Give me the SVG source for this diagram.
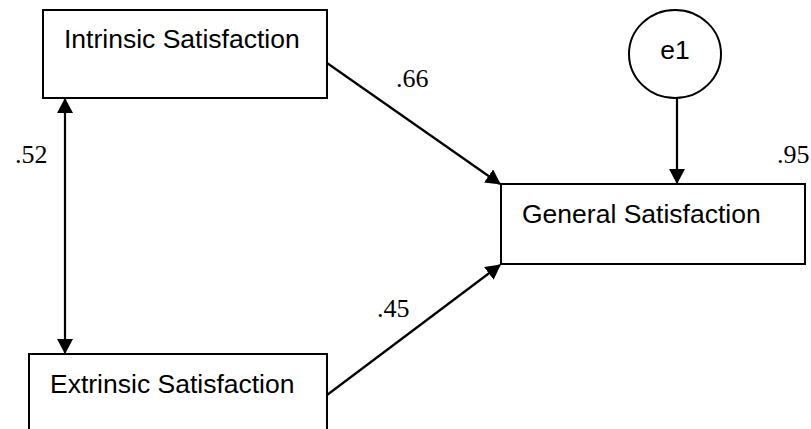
<svg xmlns="http://www.w3.org/2000/svg" width="811" height="429" viewBox="0 0 811 429">
  <style>
    .box { fill: #fff; stroke: #000; stroke-width: 2; }
    .lbl { font-family: "Liberation Sans", Arial, sans-serif; font-size: 26.5px; fill: #000; }
    .num { font-family: "Liberation Serif", "Times New Roman", serif; font-size: 26px; fill: #000; }
    .edge { stroke: #000; stroke-width: 2.2; fill: none; }
  </style>
  <defs>
    <marker id="ah" markerUnits="userSpaceOnUse" markerWidth="16" markerHeight="16" refX="14" refY="8" orient="auto">
      <path d="M0,0 L15,8 L0,16 Z" fill="#000"/>
    </marker>
    <marker id="ahs" markerUnits="userSpaceOnUse" markerWidth="16" markerHeight="16" refX="1" refY="8" orient="auto">
      <path d="M15,0 L0,8 L15,16 Z" fill="#000"/>
    </marker>
  </defs>
  <rect width="811" height="429" fill="#fff"/>

  <g id="connectors">
    <line class="edge" x1="65" y1="99" x2="65" y2="353" marker-start="url(#ahs)" marker-end="url(#ah)"/>
    <line class="edge" x1="327" y1="63" x2="500" y2="184" marker-end="url(#ah)"/>
    <line class="edge" x1="327" y1="395" x2="500" y2="265" marker-end="url(#ah)"/>
    <line class="edge" x1="677" y1="98" x2="677" y2="183" marker-end="url(#ah)"/>
    <text class="num" x="396" y="87">.66</text>
    <text class="num" x="377" y="317">.45</text>
    <text class="num" x="15" y="163">.52</text>
  </g>

  <g id="intrinsic">
    <rect class="box" x="43" y="10" width="284" height="88"/>
    <text class="lbl" x="64" y="48">Intrinsic Satisfaction</text>
  </g>

  <g id="extrinsic">
    <rect class="box" x="29" y="354" width="298" height="90"/>
    <text class="lbl" x="50" y="393">Extrinsic Satisfaction</text>
  </g>

  <g id="general">
    <rect class="box" x="501" y="184" width="304" height="80"/>
    <text class="lbl" x="522" y="223">General Satisfaction</text>
    <text class="num" x="777" y="163">.95</text>
  </g>

  <g id="e1">
    <ellipse cx="675" cy="54" rx="46" ry="44" fill="#fff" stroke="#000" stroke-width="2"/>
    <text class="lbl" x="675" y="59" text-anchor="middle">e1</text>
  </g>
</svg>
